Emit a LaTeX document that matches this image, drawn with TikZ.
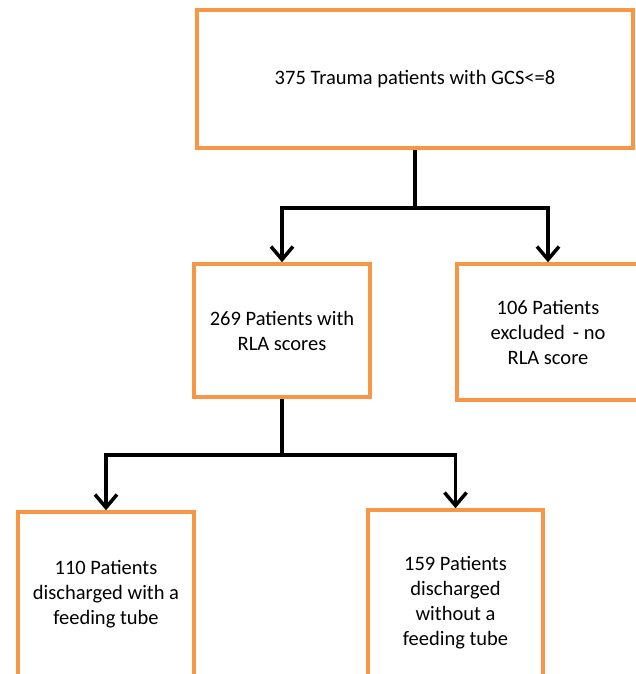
\documentclass[tikz,border=0pt]{standalone}
\usepackage{fontspec}
\setmainfont{Carlito}
\usetikzlibrary{arrows.meta}
\definecolor{boxorange}{RGB}{247,150,70}
\begin{document}
\begin{tikzpicture}[x=1pt, y=-1pt,
    box/.style={rectangle, draw=boxorange, line width=3.5pt, align=center,
        font=\fontsize{20.5}{25}\selectfont, inner sep=0pt},
    arrow/.style={line width=3.5pt, -{Straight Barb[length=13pt, width=22pt, line width=3.5pt]}},
    line/.style={line width=3.5pt}]
    \useasboundingbox (0,0) rectangle (635,674);

    % Draw nodes
    \node[box, minimum width=436pt, minimum height=138pt] (top) at (415, 79) {375 Trauma patients with GCS<=8};
    \node[box, minimum width=176pt, minimum height=133pt] (rla) at (282, 330.5) {269 Patients with\\RLA scores};
    \node[box, minimum width=182pt, minimum height=136pt] (excl) at (548, 332) {106 Patients\\excluded\, - no\\RLA score};
    \node[box, minimum width=176pt, minimum height=164pt] (tube) at (106, 594) {110 Patients\\discharged with a\\feeding tube};
    \node[box, minimum width=175pt, minimum height=186pt] (notube) at (455.5, 603) {159 Patients\\discharged\\without a\\feeding tube};

    \coordinate (j1) at (415, 208);
    \coordinate (j2) at (282, 455);

    % Draw edges
    \draw[line] (top) -- (j1);
    \draw[arrow] (j1) -| (rla);
    \draw[arrow] (j1) -| (excl);
    \draw[line] (rla) -- (j2);
    \draw[arrow] (j2) -| (tube);
    \draw[arrow] (j2) -| (notube);
\end{tikzpicture}
\end{document}
